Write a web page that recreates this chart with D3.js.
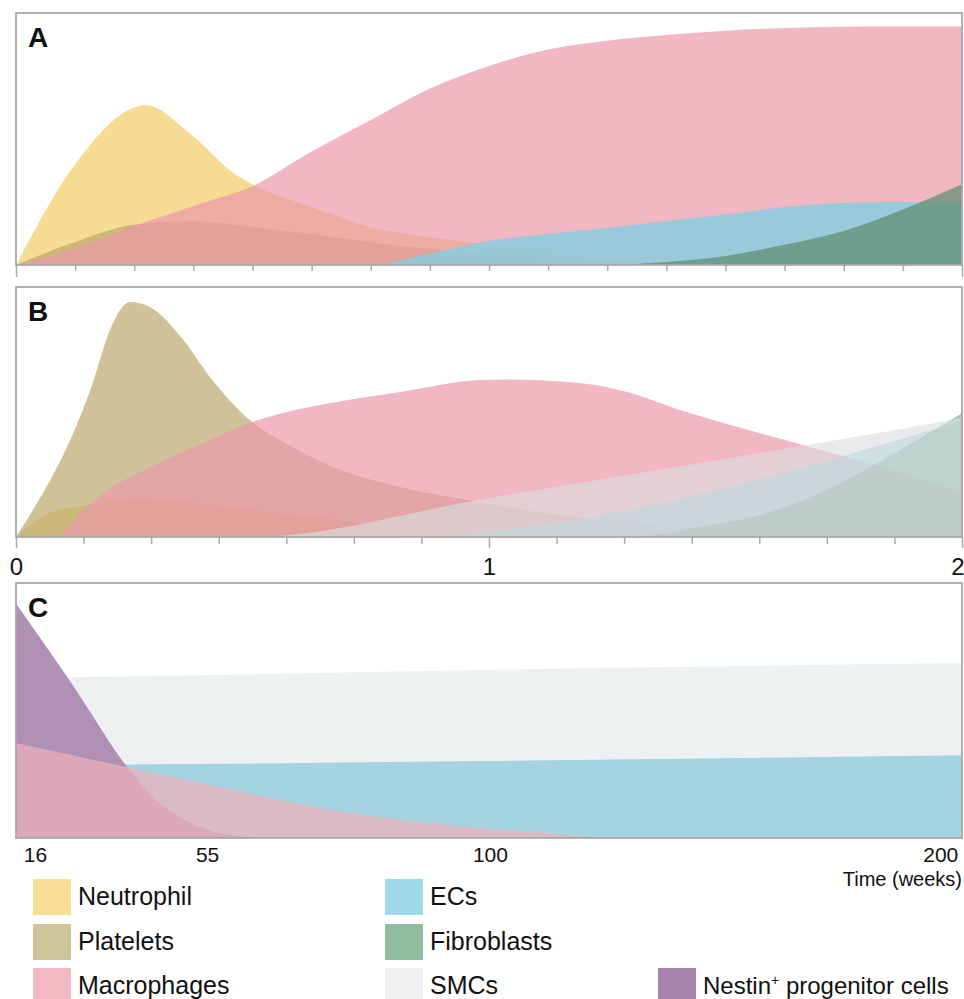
<!DOCTYPE html>
<html>
<head>
<meta charset="utf-8">
<script src="https://cdn.jsdelivr.net/npm/d3@7"></script>
<style>
  body { margin: 0; background: #fff; }
  svg text { font-family: "Liberation Sans", Arial, Helvetica, sans-serif; fill: #111; }
</style>
</head>
<body>
<div id="chart"></div>
<script>
// ---- data: [week, relative amount 0-100] ----

// panel A
var neutrophilA = [[0,0],[0.125,40],[0.25,62.5],[0.273,63.5],[0.375,51],[0.46,36.5],[0.5,32],[0.625,23],[0.75,15],[0.875,11],[1,8],[1.125,5.5],[1.25,3],[1.375,1],[1.5,0],[2,0]];
var plateletsA  = [[0,0],[0.108,8],[0.25,16],[0.375,17.5],[0.5,15],[0.625,12.3],[0.75,9],[0.875,6.3],[1,4.8],[1.125,3.2],[1.25,1.6],[1.375,0.4],[1.5,0],[2,0]];
var macrophagesA = [[0,0],[0.125,6.5],[0.25,15.5],[0.375,23.4],[0.5,31.3],[0.625,45],[0.75,57.5],[0.875,70],[1,79],[1.125,85.5],[1.25,89],[1.375,91.3],[1.5,93],[1.625,94],[1.75,94.5],[1.875,94.6],[2,94.6]];
var ecsA = [[0,0],[0.75,0],[0.875,4.6],[1,9.5],[1.125,12.3],[1.25,14.7],[1.375,17.5],[1.5,20],[1.625,23],[1.75,24.6],[1.875,25],[2,25]];
var fibroblastsA = [[0,0],[1.25,0],[1.375,1.2],[1.5,3.6],[1.625,8],[1.75,13.5],[1.875,22],[2,32]];

// panel B
var neutrophilB = [[0,0],[0.07,9.6],[0.142,12.4],[0.211,14.8],[0.247,15.6],[0.353,14],[0.493,10.8],[0.635,8],[0.812,3.6],[0.98,1.6],[1.13,0],[2,0]];
var plateletsB  = [[0,0],[0.163,62],[0.199,83],[0.241,94],[0.283,92],[0.353,79],[0.41,64],[0.493,47],[0.565,38],[0.67,28],[0.812,20],[0.98,14],[1.14,9],[1.29,6],[1.43,3.5],[1.57,2],[1.71,1],[1.86,0.4],[2,0]];
var macrophagesB = [[0,0],[0.08,0],[0.142,10.8],[0.211,20.8],[0.281,27.6],[0.353,34],[0.423,40],[0.493,45.6],[0.564,49.6],[0.677,54],[0.812,58],[0.981,62.8],[1.023,63],[1.19,61.6],[1.3,57.6],[1.4,51],[1.545,43],[1.66,37],[1.83,28],[2,18]];
var ecsB = [[0,0],[0.776,0],[2,46.5]];
var fibroblastsB = [[0,0],[1.298,0],[1.446,4],[1.588,9.6],[1.727,20],[1.869,34.8],[2,49.6]];
var smcsB = [[0,0],[0.495,0],[1,15.6],[1.5,31.2],[2,47.5]];

// panel C
var smcsC = [[12,62.8],[22.3,63],[98.4,65.9],[205,68.6]];
var ecsC = [[12,28.6],[37,28.8],[98.4,30.2],[205,32.5]];
var nestinC = [[12,92],[24.4,60.4],[36.9,27.8],[42.1,17],[49.6,7.5],[56,2.5],[62,0.4],[68,0],[205,0]];
var macrophagesC = [[12,37.3],[36.9,27.8],[59.1,18.8],[75,11],[98.4,3.9],[112.7,2],[127,0],[205,0]];

// axis labels
var weekLabels = [0, 1, 2];
var cTickLabels = [16, 55, 100, 200];

// legend
var legendNames = ["Neutrophil", "Platelets", "Macrophages", "ECs", "Fibroblasts", "SMCs", "Nestin"];
var legendColors = ["#f7dc93", "#cfc59b", "#f2b9c5", "#a0d9e9", "#8fbda0", "#eeeff0", "#a683aa"];

// ---- layout ----
var svgW = 964, svgH = 999;
var left = 16, width = 946;
var grey = "#a9a9a9";

var svg = d3.select("#chart")
  .append("svg")
  .attr("width", svgW)
  .attr("height", svgH);

function drawPanel(opts) {
  var g = svg.append("g")
    .attr("transform", "translate(" + left + "," + opts.top + ")");

  var y = d3.scaleLinear().domain([0, 100]).range([opts.height, 0]);
  var x = opts.x;

  var area = d3.area()
    .x(function(d) { return x(d[0]); })
    .y0(opts.height)
    .y1(function(d) { return y(d[1]); })
    .curve(d3.curveMonotoneX);

  // layers in drawing order, later ones sit on top
  opts.layers.forEach(function(l) {
    g.append("path")
      .datum(l.data)
      .attr("d", area)
      .attr("fill", l.color)
      .attr("fill-opacity", l.opacity);
  });

  // frame
  g.append("rect")
    .attr("width", width)
    .attr("height", opts.height)
    .attr("fill", "none")
    .attr("stroke", grey)
    .attr("stroke-width", 1.8);

  g.append("text")
    .attr("x", 12)
    .attr("y", 34)
    .style("font-size", "28px")
    .style("font-weight", "900")
    .text(opts.letter);

  return g;
}

// weeks scale shared by A and B
var xWeeks = d3.scaleLinear().domain([0, 2]).range([0, width]);

// ---- panel A ----
var gA = drawPanel({
  top: 13, height: 252, letter: "A", x: xWeeks,
  layers: [
    { data: neutrophilA, color: "#f3d67f", opacity: 0.85 },
    { data: plateletsA, color: "#bba86d", opacity: 0.7 },
    { data: macrophagesA, color: "#eb98a9", opacity: 0.7 },
    { data: ecsA, color: "#88cee0", opacity: 0.85 },
    { data: fibroblastsA, color: "#608d71", opacity: 0.73 }
  ]
});

var axisA = gA.append("g")
  .attr("transform", "translate(0,252)")
  .call(d3.axisBottom(xWeeks).tickValues(d3.range(0, 17).map(function(i) { return i / 8; })).tickSize(6).tickFormat(""));
axisA.select(".domain").remove();
axisA.selectAll("line")
  .attr("stroke", grey)
  .attr("stroke-width", 1.5)
  .attr("y2", function(d) { return (d === 0 || d === 2) ? 12 : 6; });

// ---- panel B ----
var gB = drawPanel({
  top: 287, height: 250, letter: "B", x: xWeeks,
  layers: [
    { data: neutrophilB, color: "#f3d67f", opacity: 0.85 },
    { data: plateletsB, color: "#bba86d", opacity: 0.7 },
    { data: macrophagesB, color: "#eb98a9", opacity: 0.7 },
    { data: ecsB, color: "#88cee0", opacity: 0.6 },
    { data: fibroblastsB, color: "#5f9a73", opacity: 0.5 },
    { data: smcsB, color: "#dbdedf", opacity: 0.64 }
  ]
});

var axisB = gB.append("g")
  .attr("transform", "translate(0,250)")
  .call(d3.axisBottom(xWeeks).tickValues(d3.range(0, 15).map(function(i) { return i / 7; })).tickSize(7).tickFormat(""));
axisB.select(".domain").remove();
axisB.selectAll("line")
  .attr("stroke", grey)
  .attr("stroke-width", 1.5)
  .attr("y2", function(d) { return Math.abs(d - Math.round(d)) < 1e-6 ? 11 : 7; });

var labelsB = gB.append("g")
  .attr("transform", "translate(0,250)")
  .call(d3.axisBottom(xWeeks).tickValues(weekLabels).tickSize(0).tickFormat(d3.format("d")));
labelsB.select(".domain").remove();
labelsB.selectAll("text")
  .attr("y", 38)
  .attr("dy", null)
  .attr("fill", "#111")
  .style("font-size", "24px");
// last label sits at the right edge, keep it inside the page
labelsB.selectAll("text")
  .filter(function(d) { return d === 2; })
  .attr("text-anchor", "end")
  .attr("x", 2);

// ---- panel C (uneven week axis) ----
var xC = d3.scaleLinear()
  .domain([12, 16, 55, 100, 200, 205])
  .range([0, 0.02, 0.202, 0.501, 0.977, 1].map(function(f) { return f * width; }));

var gC = drawPanel({
  top: 583, height: 255, letter: "C", x: xC,
  layers: [
    { data: smcsC, color: "#eef1f2", opacity: 1 },
    { data: ecsC, color: "#a6d3e2", opacity: 1 },
    { data: nestinC, color: "#ae91b4", opacity: 1 },
    { data: macrophagesC, color: "#f0b1b9", opacity: 0.7 }
  ]
});

var labelsC = gC.append("g")
  .attr("transform", "translate(0,255)")
  .call(d3.axisBottom(xC).tickValues(cTickLabels).tickSize(0).tickFormat(d3.format("d")));
labelsC.select(".domain").remove();
labelsC.selectAll("text")
  .attr("y", 24)
  .attr("dy", null)
  .attr("fill", "#111")
  .style("font-size", "21px");

svg.append("text")
  .attr("x", 962)
  .attr("y", 886)
  .attr("text-anchor", "end")
  .style("font-size", "20px")
  .text("Time (weeks)");

// ---- legend ----
var colX = [33, 385, 658];
var rowY = [879, 924, 968];

var legend = svg.selectAll(".legend-item")
  .data(legendNames)
  .enter().append("g")
  .attr("class", "legend-item")
  .attr("transform", function(d, i) {
    var col = i < 6 ? Math.floor(i / 3) : 2;
    var row = i < 6 ? i % 3 : 2;
    return "translate(" + colX[col] + "," + rowY[row] + ")";
  });

legend.append("rect")
  .attr("width", 38)
  .attr("height", 36)
  .attr("fill", function(d, i) { return legendColors[i]; });

var legendText = legend.append("text")
  .attr("x", 45)
  .attr("y", function(d, i) { return i === 6 ? 18 : 17; })
  .attr("dy", "0.35em")
  .style("font-size", "25px");

legendText.filter(function(d) { return d !== "Nestin"; })
  .text(function(d) { return d; });

var nestin = legendText.filter(function(d) { return d === "Nestin"; })
  .style("font-size", "24px");
nestin.append("tspan").text("Nestin");
nestin.append("tspan").text("+").style("font-size", "14px").attr("dy", -9);
nestin.append("tspan").text(" progenitor cells").attr("dy", 9);
</script>
</body>
</html>
